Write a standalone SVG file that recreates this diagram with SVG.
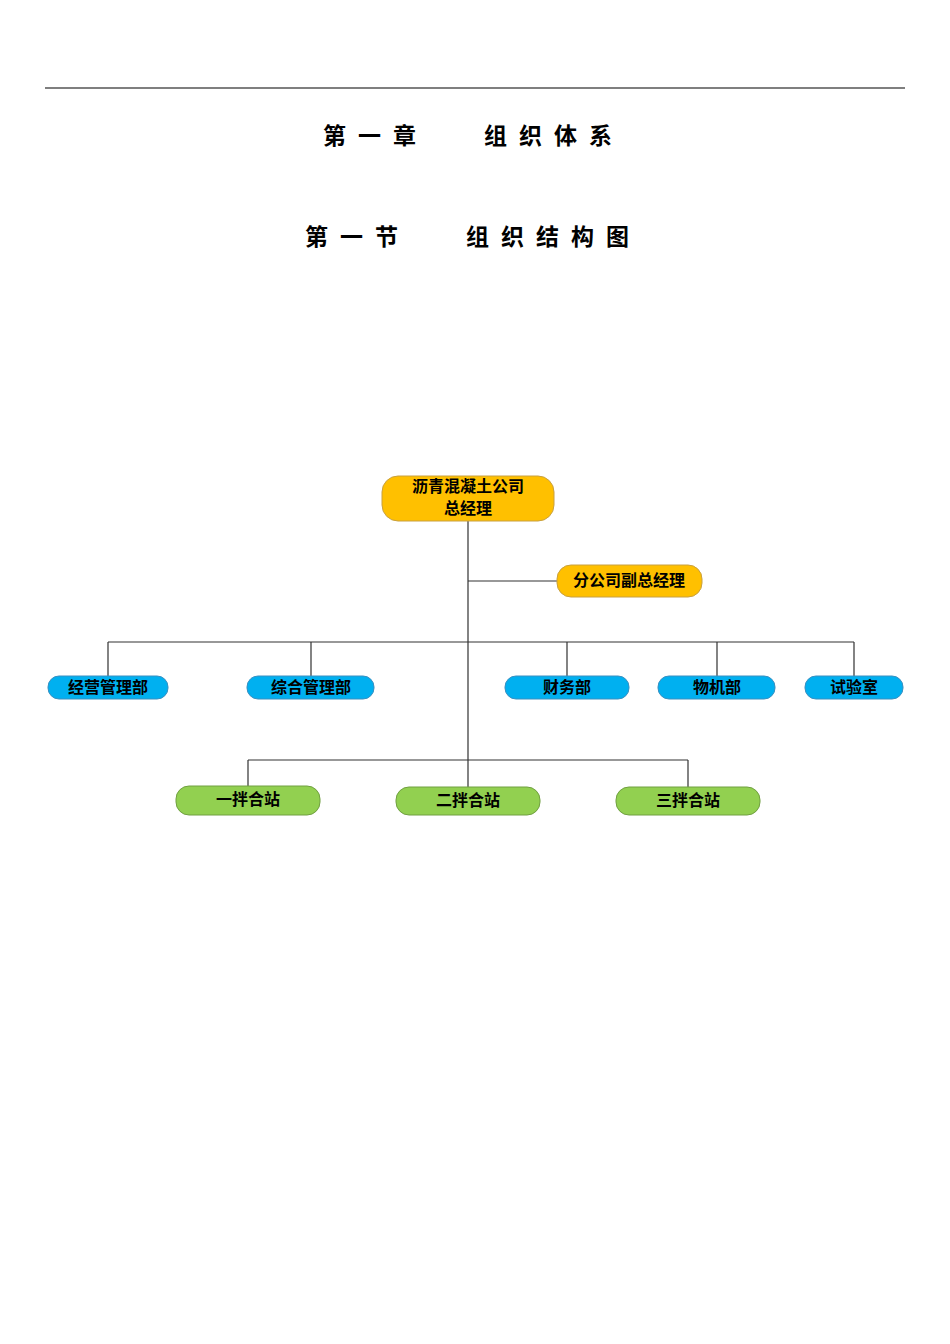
<svg xmlns="http://www.w3.org/2000/svg" width="950" height="1344" viewBox="0 0 950 1344">
<style>
.t{font-family:"Noto Sans CJK SC","Noto Sans",sans-serif;font-weight:bold;fill:#000}
.h{font-size:23px;letter-spacing:12px}
.n{font-size:16px;text-anchor:middle}
.y{fill:#ffc000;stroke:#c8a040;stroke-width:1}
.b{fill:#00b0f0;stroke:#3a8fc0;stroke-width:1}
.g{fill:#92d050;stroke:#70a040;stroke-width:1}
.c{stroke:#333;stroke-width:1.2;fill:none}
</style>
<rect width="950" height="1344" fill="#fff"/>
<line x1="45" y1="88" x2="905" y2="88" stroke="#000" stroke-width="1.2"/>
<text class="t h" x="323" y="144">第一章</text>
<text class="t h" x="484" y="144">组织体系</text>
<text class="t h" x="305" y="245">第一节</text>
<text class="t h" x="466" y="245">组织结构图</text>
<g id="connectors">
<path class="c" d="M468 521V760M468 581H557M108 642H854M108 642V676M311 642V676M567 642V676M717 642V676M854 642V676M248 760H688M248 760V787M468 760V787M688 760V787"/>
</g>
<g id="n1"><rect class="y" x="382" y="476" width="172" height="45" rx="16"/><text class="t n" x="468" y="492">沥青混凝土公司</text><text class="t n" x="468" y="514">总经理</text></g>
<g id="n2"><rect class="y" x="557" y="565" width="145" height="32" rx="14"/><text class="t n" x="629" y="586">分公司副总经理</text></g>
<g id="n3"><rect class="b" x="48" y="676" width="120" height="23" rx="11"/><text class="t n" x="108" y="693">经营管理部</text></g>
<g id="n4"><rect class="b" x="247" y="676" width="127" height="23" rx="11"/><text class="t n" x="311" y="693">综合管理部</text></g>
<g id="n5"><rect class="b" x="505" y="676" width="124" height="23" rx="11"/><text class="t n" x="567" y="693">财务部</text></g>
<g id="n6"><rect class="b" x="658" y="676" width="117" height="23" rx="11"/><text class="t n" x="717" y="693">物机部</text></g>
<g id="n7"><rect class="b" x="805" y="676" width="98" height="23" rx="11"/><text class="t n" x="854" y="693">试验室</text></g>
<g id="n8"><rect class="g" x="176" y="786" width="144" height="29" rx="13"/><text class="t n" x="248" y="805">一拌合站</text></g>
<g id="n9"><rect class="g" x="396" y="787" width="144" height="28" rx="13"/><text class="t n" x="468" y="806">二拌合站</text></g>
<g id="n10"><rect class="g" x="616" y="787" width="144" height="28" rx="13"/><text class="t n" x="688" y="806">三拌合站</text></g>
</svg>
